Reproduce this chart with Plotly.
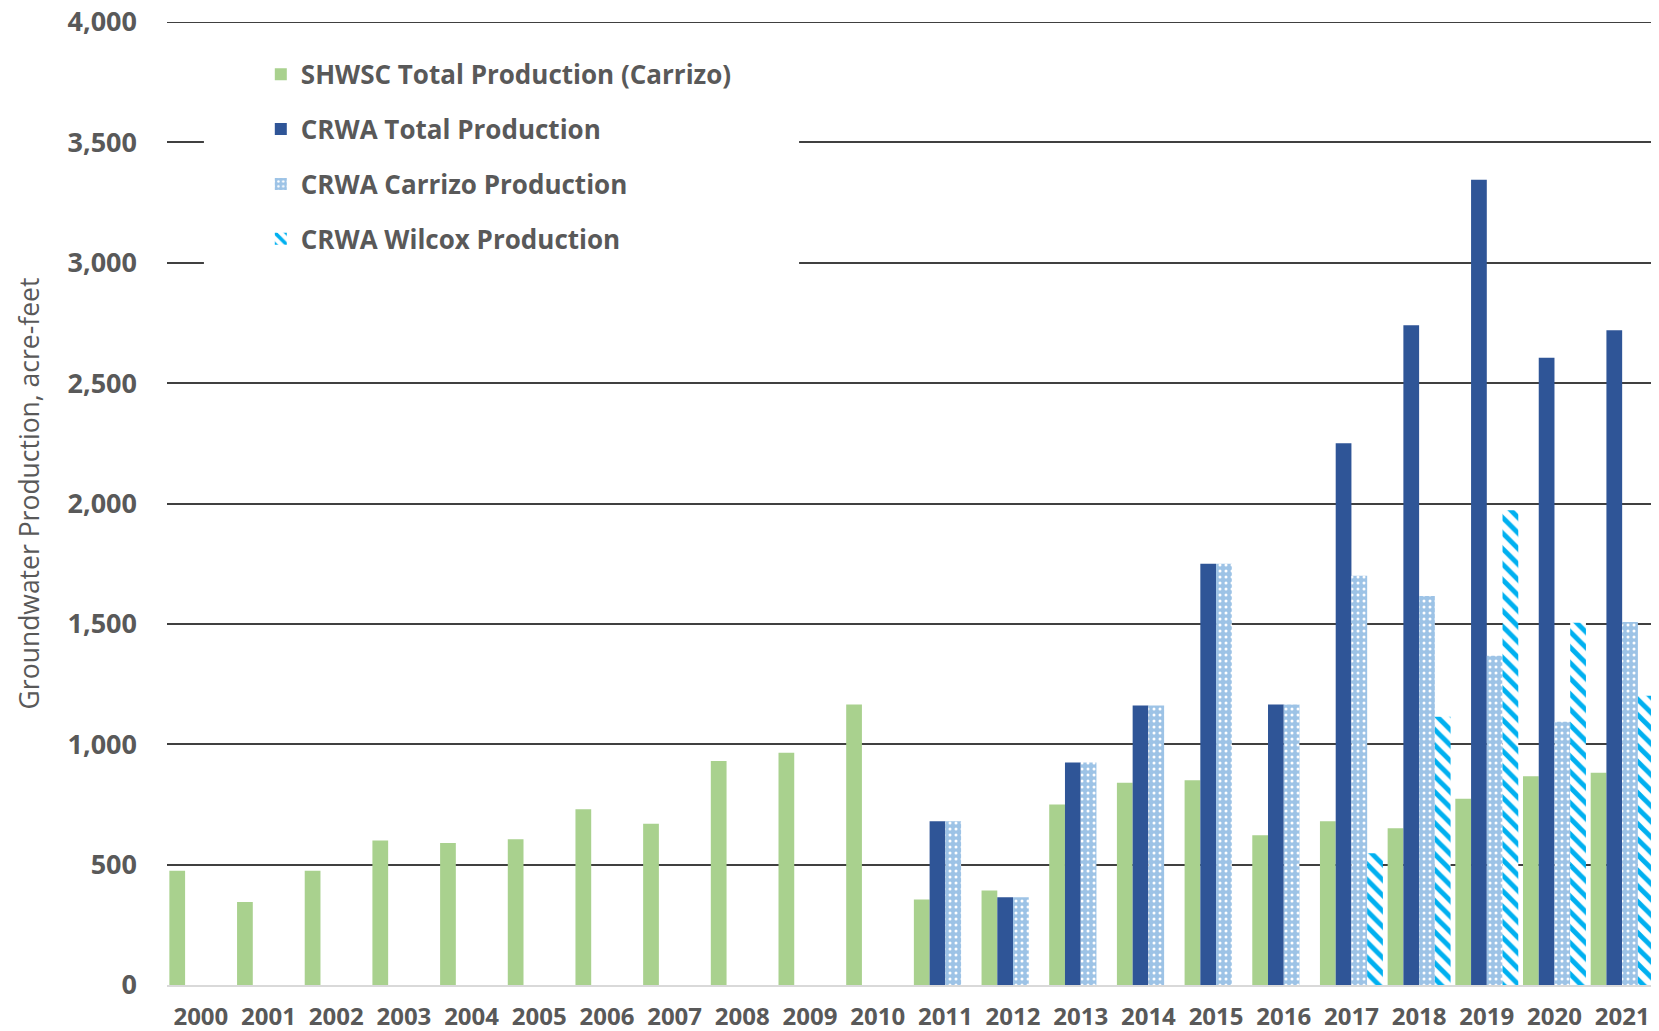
import plotly.graph_objects as go

years = [str(y) for y in range(2000, 2022)]
shwsc_total = [475, 345, 475, 600, 590, 605, 730, 670, 930, 965, 1165,
               355, 393, 750, 840, 850, 622, 680, 651, 774, 867, 882]
crwa_total = [None] * 11 + [680, 364, 924, 1161, 1750, 1165, 2250, 2740, 3345, 2605, 2720]
crwa_carrizo = [None] * 11 + [680, 364, 924, 1161, 1750, 1165, 1700, 1616, 1368, 1093, 1508]
crwa_wilcox = [None] * 17 + [547, 1114, 1972, 1505, 1201]
y_ticks = [0, 500, 1000, 1500, 2000, 2500, 3000, 3500, 4000]

GREEN = "#A9D18E"
NAVY = "#2F5597"
LIGHT = "#9DC3E6"
CYAN = "#00B0F0"
TEXT = "#595959"
GRID = "#404040"

fig = go.Figure()
fig.add_trace(go.Bar(x=years, y=shwsc_total, name="SHWSC Total Production (Carrizo)",
                     marker=dict(color=GREEN, line=dict(width=0)), legendgroup="a"))
fig.add_trace(go.Bar(x=years, y=crwa_total, name="CRWA Total Production",
                     marker=dict(color=NAVY, line=dict(width=0)), legendgroup="b"))
fig.add_trace(go.Bar(x=years, y=crwa_carrizo, name="CRWA Carrizo Production",
                     marker=dict(color=LIGHT, line=dict(width=0),
                                 pattern=dict(shape=".", bgcolor=LIGHT, fgcolor="white",
                                              size=6, solidity=0.2, fillmode="replace")),
                     legendgroup="c"))
fig.add_trace(go.Bar(x=years, y=crwa_wilcox, name="CRWA Wilcox Production",
                     marker=dict(color=CYAN, line=dict(width=0),
                                 pattern=dict(shape="\\", bgcolor="white", fgcolor=CYAN,
                                              size=11, solidity=0.45, fillmode="replace")),
                     legendgroup="d"))

# top gridline at 4,000 (plotly omits gridlines on the plot edge)
fig.add_shape(type="line", xref="paper", yref="y", x0=0, x1=1, y0=y_ticks[-1], y1=y_ticks[-1],
              line=dict(color=GRID, width=2), layer="below")

# white box behind legend (covers gridlines as in the reference)
fig.add_shape(type="rect", xref="paper", yref="paper", x0=0.0248, x1=0.4245, y0=0.732, y1=0.981,
              fillcolor="white", line=dict(width=0), layer="above")

fig.add_annotation(text="Groundwater Production, acre-feet", textangle=-90,
                   xref="paper", yref="paper", x=-0.093, y=0.51, xanchor="center", yanchor="middle",
                   showarrow=False,
                   font=dict(family="Open Sans", size=26.5, color=TEXT))

fig.update_layout(
    width=1651, height=1023,
    margin=dict(l=159, r=3, t=14, b=46, autoexpand=False),
    plot_bgcolor="white", paper_bgcolor="white",
    barmode="group", bargap=0.07, bargroupgap=0,
    showlegend=True,
    legend=dict(x=0.063, y=0.970, xanchor="left", yanchor="top", bgcolor="rgba(0,0,0,0)",
                traceorder="grouped", tracegroupgap=18,
                font=dict(family="Open Sans", size=26, color=TEXT, weight="bold")),
    xaxis=dict(type="category", showgrid=False, showline=True, linecolor="#D9D9D9", linewidth=1.5,
               ticks="", ticklabelstandoff=9, automargin=False, ticklabeloverflow="allow",
               tickfont=dict(family="Open Sans", size=24, color=TEXT, weight="bold")),
    yaxis=dict(range=[0, 4000], tickvals=y_ticks, tickformat=",d", showgrid=True,
               gridcolor=GRID, gridwidth=2, zeroline=False, showline=False,
               ticks="", ticklabelstandoff=29, automargin=False, ticklabeloverflow="allow",
               tickfont=dict(family="Open Sans", size=27, color=TEXT, weight="bold")),
)

fig.write_html("out.html")
